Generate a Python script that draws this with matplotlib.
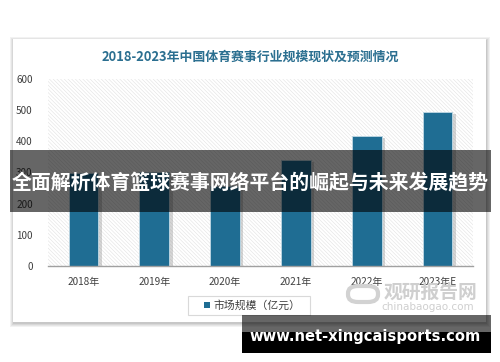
import matplotlib
matplotlib.use("Agg")
import matplotlib.pyplot as plt
import matplotlib.patheffects as pe
from matplotlib.patches import Rectangle, FancyBboxPatch

plt.rcParams['font.family'] = ['Noto Sans CJK SC', 'DejaVu Sans']
plt.rcParams['hatch.linewidth'] = 0.4

years = ["2018年", "2019年", "2020年", "2021年", "2022年", "2023年E"]
market_size = [300, 302, 258, 340, 417, 494]
y_ticks = [0, 100, 200, 300, 400, 500, 600]

title_text = "2018-2023年中国体育赛事行业规模现状及预测情况"
legend_text = "市场规模（亿元）"
banner_text = "全面解析体育篮球赛事网络平台的崛起与未来发展趋势"
site_text = "www.net-xingcaisports.com"

W, H = 500, 362
bar_color = "#1f6d93"
title_color = "#2b6f90"


def fx(x):
    return x / W


def fy(y):
    return 1 - y / H


def prect(x0, y0, x1, y1, **kw):
    # rectangle from pixel coords (top-left origin)
    return Rectangle((fx(x0), fy(y1)), fx(x1 - x0), (y1 - y0) / H,
                     transform=fig.transFigure, **kw)


fig = plt.figure(figsize=(5, 3.62), dpi=100)
fig.patch.set_facecolor("white")

# card with soft shadow
for i, a in enumerate([0.05, 0.05, 0.06, 0.07]):
    g = 4 - i
    fig.add_artist(prect(13 - g + 1, 39 - g + 2, 486 + g, 322 + g + 1,
                         facecolor="black", edgecolor="none", alpha=a, zorder=-3))
fig.add_artist(prect(13, 39, 486, 322, facecolor="white", edgecolor="none", zorder=-2))

ax = fig.add_axes([fx(48), fy(266), fx(473 - 48), (266 - 79) / H])
ax.set_facecolor("white")
ax.add_patch(Rectangle((0, 0), 1, 1, transform=ax.transAxes, facecolor="white",
                       edgecolor="#e2e2e2", hatch="\\" * 9, linewidth=0, zorder=0))

x = range(len(years))
bars = ax.bar(x, market_size, width=0.42, color=bar_color, edgecolor="#b9d3e0",
              linewidth=0.7, zorder=3)
for b in bars:
    b.set_path_effects([pe.SimplePatchShadow(offset=(2.5, -1.5), shadow_rgbFace="#888888", alpha=0.35),
                        pe.Normal()])

ax.set_xlim(-0.5, len(years) - 0.5)
ax.set_ylim(0, 600)
ax.set_yticks(y_ticks)
ax.set_yticklabels([str(v) for v in y_ticks])
ax.set_xticks(list(x))
ax.set_xticklabels(years)
ax.tick_params(axis="y", length=0, pad=11, labelsize=7.2, labelcolor="#404040")
ax.tick_params(axis="x", length=0, pad=8, labelsize=7.2, labelcolor="#404040")
for s in ["left", "right", "top"]:
    ax.spines[s].set_visible(False)
ax.spines["bottom"].set_color("#a0a0a0")
ax.spines["bottom"].set_linewidth(1.0)
ax.spines["bottom"].set_zorder(4)

fig.text(fx(250), fy(57), title_text, ha="center", va="center", fontsize=9.3,
         fontweight="bold", color=title_color)

# legend
fig.add_artist(prect(188, 296, 310, 315, facecolor="white", edgecolor="#d9d9d9",
                     linewidth=0.8, zorder=2))
fig.add_artist(prect(204, 302, 210, 308, facecolor=bar_color, edgecolor="none", zorder=3))
fig.text(fx(213), fy(305.5), legend_text, ha="left", va="center", fontsize=7.8,
         color="#404040", zorder=3)

# watermark
fig.text(fx(430), fy(292), "观研报告网", ha="center", va="center", fontsize=13.5,
         fontweight="bold", color="#cfcfcf", zorder=2)
fig.text(fx(428), fy(307), "chinabaogao.com", ha="center", va="center", fontsize=7.5,
         color="#cfcfcf", zorder=2, family="DejaVu Sans")
fig.add_artist(FancyBboxPatch((fx(348), fy(302)), fx(30), 16 / H,
                              boxstyle="round,pad=0,rounding_size=0.02",
                              transform=fig.transFigure, facecolor="none",
                              edgecolor="#d2d2d2", linewidth=3, zorder=2))

# overlay banner
fig.add_artist(prect(10, 150, 491, 212, facecolor="black", edgecolor="none",
                     alpha=0.6, zorder=10))
fig.text(fx(250), fy(183), banner_text, ha="center", va="center", fontsize=14.3,
         fontweight="bold", color="white", zorder=11)

# bottom site box
fig.add_artist(prect(242, 315, 491, 332, facecolor="black", edgecolor="none",
                     alpha=0.6, zorder=10))
fig.add_artist(prect(242, 332, 491, 353, facecolor="black", edgecolor="none", zorder=10))
fig.text(fx(365), fy(337), site_text, ha="center", va="center", fontsize=10.6,
         fontweight="bold", color="white", zorder=11, family="DejaVu Sans")

fig.savefig("out.png", dpi=100)
